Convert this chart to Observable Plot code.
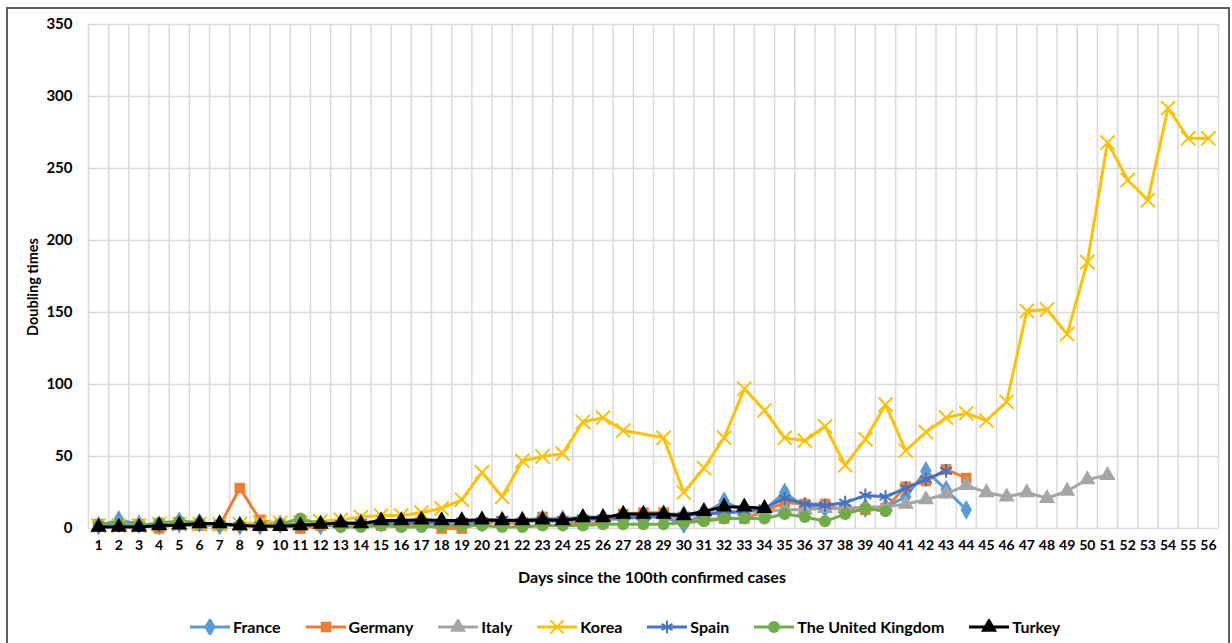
<!DOCTYPE html>
<html><head><meta charset="utf-8">
<script src="https://cdn.jsdelivr.net/npm/d3@7"></script>
<script src="https://cdn.jsdelivr.net/npm/@observablehq/plot@0.6"></script>
<style>
body{margin:0;background:#fff;font-family:Lato,"Open Sans",sans-serif;color:#000;}
#frame{position:absolute;left:6px;top:7px;width:1224px;height:660px;border:2px solid #5f5f5f;box-sizing:border-box;}
#chart{position:absolute;left:0;top:0;}
.ylab{position:absolute;left:32px;top:287px;transform:translate(-50%,-50%) rotate(-90deg);font-weight:700;font-size:14.5px;white-space:nowrap;}
.xlab{position:absolute;left:652px;top:576px;transform:translate(-50%,-50%);font-weight:700;font-size:16px;white-space:nowrap;}
#legend{position:absolute;left:190px;top:617px;display:flex;align-items:center;font-weight:700;font-size:16px;white-space:nowrap;}
#legend .item{display:flex;align-items:center;margin-right:25px;}
#legend svg{margin-right:3px;}
</style></head>
<body>
<div id="frame"></div>
<div id="chart"></div>
<div class="ylab">Doubling times</div>
<div class="xlab">Days since the 100th confirmed cases</div>
<div id="legend"></div>
<script>
const days = [1,2,3,4,5,6,7,8,9,10,11,12,13,14,15,16,17,18,19,20,21,22,23,24,25,26,27,28,29,30,31,32,33,34,35,36,37,38,39,40,41,42,43,44,45,46,47,48,49,50,51,52,53,54,55,56];
const yTicks = [0,50,100,150,200,250,300,350];

const seriesNames = ["France","Germany","Italy","Korea","Spain","The United Kingdom","Turkey"];
const seriesColors = ["#5B9BD5","#ED7D31","#A5A5A5","#FFC000","#4472C4","#70AD47","#000000"];
const seriesSymbols = ["diamond","square","triangle","times","asterisk","circle","triangle"];

const france = [2,6,3,2,5,4,2,2,2,3,3,2,3,4,4,4,4,5,4,4,5,5,5,5,6,6,7,8,8,3,10,19,12,13,25,15,14,14,14,15,22,40,27,13];
const germany = [3,2,3,0,4,2,2,28,6,3,0,2,3,3,2,2,3,0,0,4,5,3,8,4,3,4,10,11,11,5,6,7,7,12,18,17,17,12,13,14,29,33,41,35];
const italy = [1,2,2,2,2,2,2,2,3,3,3,3,3,4,4,4,5,5,5,6,6,6,7,7,8,8,9,9,10,10,11,11,12,12,13,13,14,14,15,15,17,20,24,30,25,22,25,21,26,34,37];
const korea = [2,2,2,3,3,3,3,3,4,4,4,5,6,8,9,9,11,14,20,39,22,47,50,52,74,77,68,null,63,25,42,63,97,82,63,61,71,44,62,86,54,67,77,80,75,88,151,152,135,185,268,242,228,292,271,271];
const spain = [2,2,2,2,2,3,3,2,2,2,3,3,3,4,4,4,4,4,5,5,6,5,6,6,7,7,8,8,9,9,10,11,12,14,21,17,16,18,23,22,28,34,40];
const uk = [2,3,2,4,5,4,3,2,2,3,7,3,1,1,2,1,1,2,2,2,1,1,2,2,2,3,3,3,3,4,5,7,7,7,10,8,5,10,14,12];
const turkey = [1,1,1,2,2.5,3.5,3.5,2,1.5,1.5,2,3,4,3.5,5.5,5.5,6,5.5,5.5,6,5.5,5.5,6,5.5,7.5,7.5,10,10,10,9,12,15,15,14];

const seriesValues = [france, germany, italy, korea, spain, uk, turkey];

const series = seriesNames.map((name, k) => ({
  name, color: seriesColors[k], symbol: seriesSymbols[k],
  data: seriesValues[k].map((v, i) => ({day: days[i], value: v})).filter(d => d.value != null)
}));

const boundaries = days.map(d => d - 0.5).concat([days[days.length - 1] + 0.5]);

const marks = [
  Plot.ruleY(yTicks, {stroke: "#d9d9d9", strokeWidth: 1.5}),
  Plot.ruleX(boundaries, {stroke: "#d9d9d9", strokeWidth: 1.5}),
  Plot.axisY({ticks: yTicks, tickSize: 0, tickPadding: 16, fontSize: 15, fontWeight: "bold", label: null}),
  Plot.axisX({ticks: days, tickSize: 0, tickPadding: 12, fontSize: 14, fontWeight: "bold", label: null, tickFormat: d => String(d)})
];

for (const s of series) {
  marks.push(Plot.line(s.data, {x: "day", y: "value", stroke: s.color, strokeWidth: 3, curve: "linear"}));
  const stroked = (s.symbol === "times" || s.symbol === "asterisk");
  marks.push(Plot.dot(s.data, {
    x: "day", y: "value", symbol: () => s.symbol, r: stroked ? 6.5 : 6,
    fill: stroked ? "none" : s.color, stroke: stroked ? s.color : "none", strokeWidth: stroked ? 2 : 0
  }));
}

const chart = Plot.plot({
  width: 1232, height: 595,
  marginLeft: 88, marginRight: 14, marginTop: 24, marginBottom: 67,
  x: {type: "linear", domain: [0.5, 56.5]},
  y: {domain: [0, 350]},
  symbol: {type: "ordinal"},
  style: {fontFamily: "Lato, 'Open Sans', sans-serif", color: "#000", background: "transparent", overflow: "visible"},
  marks
});
document.getElementById("chart").appendChild(chart);

// legend
const symMap = {diamond: d3.symbolDiamond, square: d3.symbolSquare, triangle: d3.symbolTriangle, times: d3.symbolTimes, asterisk: d3.symbolAsterisk, circle: d3.symbolCircle};
const legend = d3.select("#legend");
for (const s of series) {
  const item = legend.append("div").attr("class", "item");
  const svg = item.append("svg").attr("width", 40).attr("height", 16);
  svg.append("line").attr("x1", 0).attr("x2", 40).attr("y1", 8).attr("y2", 8).attr("stroke", s.color).attr("stroke-width", 3);
  const stroked = (s.symbol === "times" || s.symbol === "asterisk");
  svg.append("path").attr("transform", "translate(20,8)")
    .attr("d", d3.symbol(symMap[s.symbol], Math.PI * 36)())
    .attr("fill", stroked ? "none" : s.color)
    .attr("stroke", stroked ? s.color : "none").attr("stroke-width", stroked ? 2 : 0);
  item.append("span").text(s.name);
}
</script>
</body></html>
